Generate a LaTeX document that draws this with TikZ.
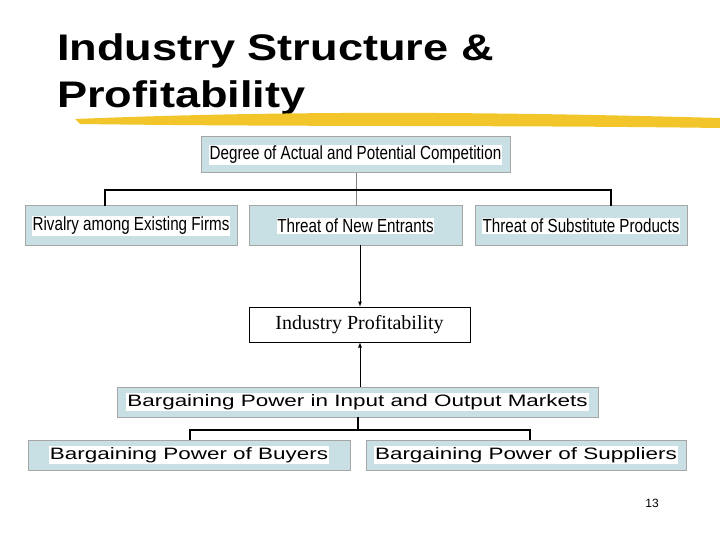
\documentclass[tikz,border=0pt]{standalone}
\usepackage{fontspec}
\setmainfont{Liberation Sans}
\newfontfamily\serifr{Liberation Serif}
\begin{document}
\begin{tikzpicture}[x=1pt,y=-1pt,
  bx/.style={draw=gray!70,fill=boxc,line width=1pt},
  lbl/.style={fill=white,inner sep=1pt,font=\fontsize{19}{20}\selectfont},
  lbb/.style={fill=white,inner sep=1pt,xscale=1.36,font=\fontsize{16.5}{18}\selectfont},
  conn/.style={line width=1.3pt},
  arr/.style={line width=0.8pt,-latex}]
\definecolor{boxc}{HTML}{C8E0E4}
\definecolor{brush}{HTML}{F2C62A}
\useasboundingbox (0,0) rectangle (720,540);
% title
\node[anchor=west,font=\bfseries\fontsize{37}{40}\selectfont,inner sep=0,xscale=1.22] (t1) at (57,51) {Industry Structure \&};
\node[anchor=west,font=\bfseries\fontsize{37}{40}\selectfont,inner sep=0,xscale=1.22] (t2) at (57,98) {Profitability};
\fill[brush] (75,119) .. controls (300,110) and (500,112) .. (720,118) -- (720,128) .. controls (500,125) and (300,127) .. (80,124) -- cycle;
% top boxes
\draw[bx] (201,137) rectangle (510,173); \node[lbl,xscale=0.8] (dc) at (355.5,155) {Degree of Actual and Potential Competition};
\draw[bx] (25,206) rectangle (237,245); \node[lbl,xscale=0.8] (r) at (131,226) {Rivalry among Existing Firms};
\draw[bx] (249,206) rectangle (462,245); \node[lbl,xscale=0.8] (ne) at (355.5,226) {Threat of New Entrants};
\draw[bx] (475,206) rectangle (687,245); \node[lbl,xscale=0.8] (sp) at (581,226) {Threat of Substitute Products};
\draw[gray,line width=1pt] (356,173) -- (356,206);
\draw[conn] (105,206) -- (105,190) -- (611,190) -- (611,206);
% profitability
\node[draw,line width=0.6pt,minimum width=221pt,minimum height=35pt,font=\serifr\fontsize{20}{22}\selectfont] (ip) at (359.5,324.5) {Industry Profitability};
\draw[arr] (360,245) -- (ip.north -| 360,0);
\draw[arr] (360,387) -- (ip.south -| 360,0);
% bargaining
\draw[bx] (117,387) rectangle (598,417); \node[lbb] (bp) at (357.5,402) {Bargaining Power in Input and Output Markets};
\draw[bx] (28,440) rectangle (350,470); \node[lbb] (bb) at (189,455) {Bargaining Power of Buyers};
\draw[bx] (366,440) rectangle (686,470); \node[lbb] (bs) at (526,455) {Bargaining Power of Suppliers};
\draw[conn] (358,417) -- (358,430);
\draw[conn] (190,440) -- (190,430) -- (530,430) -- (530,440);
\node[font=\fontsize{12}{13}\selectfont] (pg) at (652,503) {13};
\end{tikzpicture}
\end{document}
